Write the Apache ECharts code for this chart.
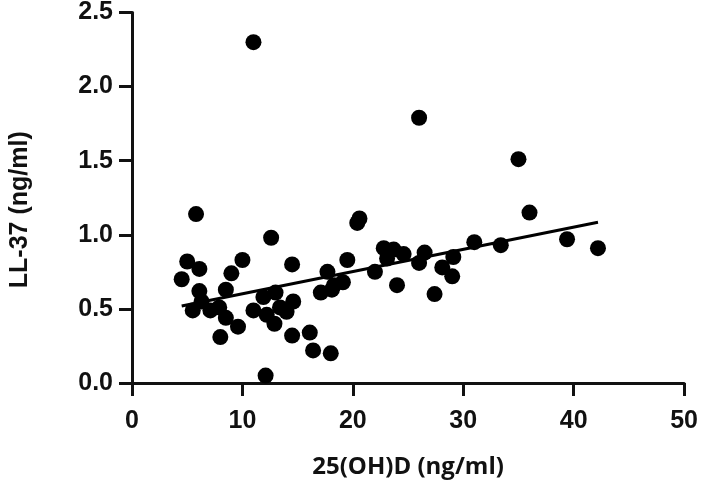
<!DOCTYPE html>
<html>
<head>
<meta charset="utf-8">
<script src="https://cdn.jsdelivr.net/npm/echarts@6/dist/echarts.min.js"></script>
<style>
  html, body { margin: 0; padding: 0; background: #fff; }
  #chart { width: 701px; height: 486px; }
</style>
</head>
<body>
<div id="chart"></div>
<script>
// 25(OH)D (ng/ml) values
const vitD = [
  4.5, 5.0, 5.8, 6.1, 6.1, 5.5, 6.3, 7.1, 7.9, 8.5,
  8.0, 9.6, 9.0, 8.5, 10.0, 11.0, 12.6, 11.9, 13.0, 11.0,
  12.2, 12.9, 13.4, 14.0, 14.6, 14.5, 14.5, 16.1, 16.4, 18.0,
  12.1, 17.7, 17.1, 18.1, 18.3, 19.1, 19.5, 20.4, 20.6, 22.0,
  22.8, 23.7, 23.1, 24.6, 24.0, 26.0, 26.0, 26.5, 27.4, 28.1,
  29.1, 29.0, 31.0, 33.4, 35.0, 36.0, 39.4, 42.2
]
// LL-37 (ng/ml) values, same order
const ll37 = [
  0.70, 0.82, 1.14, 0.77, 0.62, 0.49, 0.55, 0.49, 0.51, 0.44,
  0.31, 0.38, 0.74, 0.63, 0.83, 2.30, 0.98, 0.58, 0.61, 0.49,
  0.46, 0.40, 0.51, 0.48, 0.55, 0.80, 0.32, 0.34, 0.22, 0.20,
  0.05, 0.75, 0.61, 0.63, 0.66, 0.68, 0.83, 1.08, 1.11, 0.75,
  0.91, 0.90, 0.84, 0.87, 0.66, 1.79, 0.81, 0.88, 0.60, 0.78,
  0.85, 0.72, 0.95, 0.93, 1.51, 1.15, 0.97, 0.91
]
// regression line ends as drawn
const fitX = [4.5, 42.2]
const fitY = [0.52, 1.085]

const xTicks = [0, 10, 20, 30, 40, 50]
const yTicks = [0, 0.5, 1.0, 1.5, 2.0, 2.5]

const chart = echarts.init(document.getElementById('chart'))

const axisFont = {
  fontFamily: 'Liberation Sans, Arial, sans-serif',
  fontWeight: 'bold',
  fontSize: 25,
  color: '#111'
}

const option = {
  animation: false,
  grid: { left: 127, right: 15, top: 12, bottom: 103 },
  xAxis: {
    type: 'value',
    min: xTicks[0],
    max: xTicks[xTicks.length - 1],
    interval: 10,
    splitLine: { show: false },
    axisLine: { lineStyle: { color: '#111', width: 3 } },
    axisTick: { length: 13, lineStyle: { color: '#111', width: 3 } },
    axisLabel: Object.assign({ margin: 26 }, axisFont),
    name: '25(OH)D (ng/ml)',
    nameLocation: 'middle',
    nameGap: 72,
    nameTextStyle: {
      fontFamily: 'Open Sans, Noto Sans, sans-serif',
      fontWeight: 'bold',
      fontSize: 24,
      color: '#111'
    }
  },
  yAxis: {
    type: 'value',
    min: yTicks[0],
    max: yTicks[yTicks.length - 1],
    interval: 0.5,
    splitLine: { show: false },
    axisLine: { show: true, lineStyle: { color: '#111', width: 3 } },
    axisTick: { show: true, length: 13, lineStyle: { color: '#111', width: 3 } },
    axisLabel: Object.assign({
      margin: 19,
      formatter: (v) => v.toFixed(1)
    }, axisFont),
    name: 'LL-37 (ng/ml)',
    nameLocation: 'middle',
    nameGap: 99,
    nameTextStyle: Object.assign({ padding: [0, 24, 0, 0] }, axisFont)
  },
  series: [
    {
      type: 'scatter',
      symbolSize: 16,
      itemStyle: { color: '#000', opacity: 1 },
      data: vitD.map((x, i) => [x, ll37[i]]),
      z: 3
    },
    {
      type: 'line',
      symbol: 'none',
      lineStyle: { color: '#000', width: 3 },
      data: fitX.map((x, i) => [x, fitY[i]]),
      z: 4
    }
  ]
}

chart.setOption(option)
</script>
</body>
</html>
